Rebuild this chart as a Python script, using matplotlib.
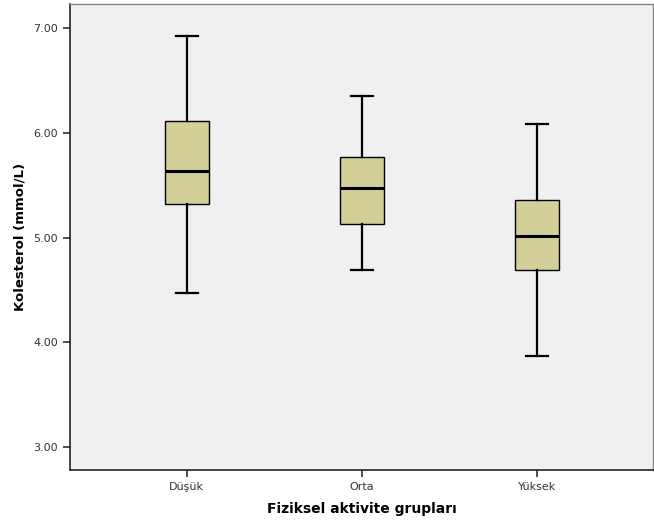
import matplotlib
matplotlib.use('Agg')
import matplotlib.pyplot as plt

# Box statistics [mmol/L]
groups = ['Düşük', 'Orta', 'Yüksek']
whisker_low = [4.47, 4.69, 3.87]
q1 = [5.32, 5.13, 4.69]
median = [5.64, 5.47, 5.01]
q3 = [6.11, 5.77, 5.36]
whisker_high = [6.92, 6.35, 6.08]
y_ticks = [3.0, 4.0, 5.0, 6.0, 7.0]

BOX_COLOR = '#D3CF97'
BG_COLOR = '#F0F0F0'

stats = []
for i, name in enumerate(groups):
    stats.append({'label': name, 'whislo': whisker_low[i], 'q1': q1[i],
                  'med': median[i], 'q3': q3[i], 'whishi': whisker_high[i],
                  'fliers': []})

fig = plt.figure(figsize=(6.54, 5.24), dpi=100)
ax = fig.add_axes([70 / 654, 54 / 524, 583 / 654, 466 / 524])
ax.set_facecolor(BG_COLOR)

ax.bxp(stats, positions=[1, 2, 3], widths=0.25, patch_artist=True,
       showfliers=False,
       boxprops=dict(facecolor=BOX_COLOR, edgecolor='black', linewidth=1.0),
       medianprops=dict(color='black', linewidth=2.2),
       whiskerprops=dict(color='black', linewidth=1.6),
       capprops=dict(color='black', linewidth=1.6),
       capwidths=0.125)

ax.set_xlim(0.332, 3.665)
ax.set_ylim(2.78, 7.23)
ax.set_yticks(y_ticks)
ax.set_yticklabels(['%0.2f' % v for v in y_ticks])

ax.tick_params(axis='both', direction='out', length=5, width=1.2,
               color='#333333', labelsize=8, labelcolor='#333333')
for side in ['left', 'bottom']:
    ax.spines[side].set_color('#222222')
    ax.spines[side].set_linewidth(1.2)
for side in ['top', 'right']:
    ax.spines[side].set_color('#888888')
    ax.spines[side].set_linewidth(1.0)

ax.set_xlabel('Fiziksel aktivite grupları', fontsize=10, fontweight='bold',
              labelpad=7)
ax.set_ylabel('Kolesterol (mmol/L)', fontsize=9.5, fontweight='bold',
              labelpad=5)

fig.savefig('out.png', dpi=100)
